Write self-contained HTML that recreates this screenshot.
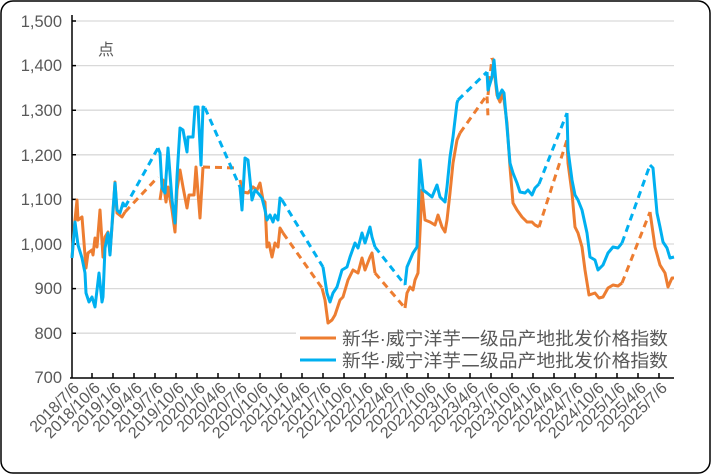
<!DOCTYPE html>
<html><head><meta charset="utf-8"><style>
html,body{margin:0;padding:0;background:#fff}
svg{display:block}
text{font-family:"Liberation Sans","Noto Sans CJK SC",sans-serif;fill:#595959}
</style></head><body>
<svg width="711" height="474" viewBox="0 0 711 474" xmlns="http://www.w3.org/2000/svg">
<rect x="1" y="1" width="709" height="472" rx="12" fill="#fff" stroke="#000" stroke-width="1.5"/>
<g stroke="#d9d9d9" stroke-width="1.3">
<line x1="72" x2="674" y1="21" y2="21"/><line x1="72" x2="674" y1="65.6" y2="65.6"/>
<line x1="72" x2="674" y1="110.2" y2="110.2"/><line x1="72" x2="674" y1="154.8" y2="154.8"/>
<line x1="72" x2="674" y1="199.4" y2="199.4"/><line x1="72" x2="674" y1="244" y2="244"/>
<line x1="72" x2="674" y1="288.6" y2="288.6"/><line x1="72" x2="674" y1="333.2" y2="333.2"/>
</g>
<g font-size="16.5" text-anchor="end">
<text x="62" y="27">1,500</text><text x="62" y="71">1,400</text><text x="62" y="116">1,300</text>
<text x="62" y="161">1,200</text><text x="62" y="205">1,100</text><text x="62" y="250">1,000</text>
<text x="62" y="294">900</text><text x="62" y="339">800</text><text x="62" y="383">700</text>
</g>
<text x="98" y="55" font-size="16">点</text>
<g stroke="#000" stroke-width="1.5">
<line x1="72" y1="15" x2="72" y2="378"/><line x1="70" y1="378" x2="674" y2="378"/>
<path d="M72 21h4M72 65.6h4M72 110.2h4M72 154.8h4M72 199.4h4M72 244h4M72 288.6h4M72 333.2h4" fill="none"/>
<path d="M92 378v-5M113 378v-5M134 378v-5M155 378v-5M176 378v-5M197 378v-5M218 378v-5M239 378v-5M260 378v-5M281 378v-5M302 378v-5M323 378v-5M344 378v-5M365 378v-5M386 378v-5M407 378v-5M428 378v-5M449 378v-5M470 378v-5M491 378v-5M512 378v-5M533 378v-5M554 378v-5M575 378v-5M596 378v-5M617 378v-5M638 378v-5M659 378v-5" fill="none"/>
</g>
<g font-size="16" text-anchor="end">
<text transform="translate(80,389) rotate(-45)">2018/7/6</text>
<text transform="translate(101,389) rotate(-45)">2018/10/6</text>
<text transform="translate(122,389) rotate(-45)">2019/1/6</text>
<text transform="translate(143,389) rotate(-45)">2019/4/6</text>
<text transform="translate(164,389) rotate(-45)">2019/7/6</text>
<text transform="translate(185,389) rotate(-45)">2019/10/6</text>
<text transform="translate(206,389) rotate(-45)">2020/1/6</text>
<text transform="translate(227,389) rotate(-45)">2020/4/6</text>
<text transform="translate(248,389) rotate(-45)">2020/7/6</text>
<text transform="translate(269,389) rotate(-45)">2020/10/6</text>
<text transform="translate(290,389) rotate(-45)">2021/1/6</text>
<text transform="translate(311,389) rotate(-45)">2021/4/6</text>
<text transform="translate(332,389) rotate(-45)">2021/7/6</text>
<text transform="translate(353,389) rotate(-45)">2021/10/6</text>
<text transform="translate(374,389) rotate(-45)">2022/1/6</text>
<text transform="translate(395,389) rotate(-45)">2022/4/6</text>
<text transform="translate(416,389) rotate(-45)">2022/7/6</text>
<text transform="translate(437,389) rotate(-45)">2022/10/6</text>
<text transform="translate(458,389) rotate(-45)">2023/1/6</text>
<text transform="translate(479,389) rotate(-45)">2023/4/6</text>
<text transform="translate(500,389) rotate(-45)">2023/7/6</text>
<text transform="translate(521,389) rotate(-45)">2023/10/6</text>
<text transform="translate(542,389) rotate(-45)">2024/1/6</text>
<text transform="translate(563,389) rotate(-45)">2024/4/6</text>
<text transform="translate(584,389) rotate(-45)">2024/7/6</text>
<text transform="translate(605,389) rotate(-45)">2024/10/6</text>
<text transform="translate(626,389) rotate(-45)">2025/1/6</text>
<text transform="translate(647,389) rotate(-45)">2025/4/6</text>
<text transform="translate(668,389) rotate(-45)">2025/7/6</text>
</g>
<g fill="none" stroke="#ed7d31" stroke-width="3" stroke-linejoin="round">
<path d="M72 258L74 230L77 200L78 220L82 217L86 268L88 253L92 250L93 255L95 238L97 247L100 210L103 257L105 237L108 232L110 253L113 213L115 182L117 213L122 217L125 212"/>
<path d="M160 200L163 180L166 202L168 187L172 210L175 232L177 190L180 170L183 187L187 208L189 195L194 195L196 167L200 218L203 167"/>
<path d="M240 180L243 192L248 193L253 187L257 190L260 183L263 200L265 202L267 247L269 243L272 257L275 243L278 247L280 228L283 233"/>
<path d="M322 288L325 300L328 323L332 320L335 315L340 300L343 297L348 280L353 270L358 273L362 258L365 270L370 257L372 253L375 273"/>
<path d="M405 308L407 293L410 287L413 290L415 280L418 273L422 190L425 220L430 222L435 225L438 215L442 227L445 232L447 220L450 193L453 163L457 140L460 133"/>
<path d="M492 58L493 60L497 95L500 102L503 92L507 123L510 167L513 203L517 210L522 217L527 222L532 222L535 225L539 227"/>
<path d="M567 140L568 163L572 193L575 227L578 233L582 247L585 270L589 295L595 293L599 298L603 297L608 288L613 285L618 286L622 283"/>
<path d="M650 212L655 247L660 265L665 273L668 287L672 278L674 278"/>
<g stroke-dasharray="7,5">
<path d="M125 212L158 177"/><path d="M203 167L237 168"/><path d="M283 233L322 288"/><path d="M375 273L405 308"/>
<path d="M460 133L487 95L488 117"/><path d="M488 95L492 58"/><path d="M539 227L567 140"/><path d="M622 283L650 212"/>
</g>
</g>
<g fill="none" stroke="#00b0f0" stroke-width="3" stroke-linejoin="round">
<path d="M72 258L75 222L78 245L82 258L85 273L86 293L89 302L92 297L95 307L97 290L99 273L102 302L103 297L105 248L108 233L110 255L113 210L115 183L117 210L120 213L123 203L125 207"/>
<path d="M158 148L160 153L162 188L165 193L168 148L172 200L175 223L177 177L180 128L183 130L187 152L188 137L193 137L195 107L198 107L201 165L203 107L205 108"/>
<path d="M240 187L242 210L245 158L248 160L252 200L255 190L258 193L262 198L265 210L267 220L270 215L273 222L275 215L278 220L280 198L282 200"/>
<path d="M323 267L327 293L330 302L333 293L337 287L342 270L347 267L350 257L355 243L358 248L362 233L365 243L370 227L372 237L375 247"/>
<path d="M405 285L407 267L410 260L413 253L417 247L420 160L423 190L427 193L432 197L437 185L440 197L445 202L447 187L450 157L453 137L457 103L458 100"/>
<path d="M487 72L488 90L492 77L494 60L496 83L498 98L502 90L504 93L507 127L510 163L513 173L517 183L520 192L525 193L528 190L532 195L535 188L539 184"/>
<path d="M567 113L568 150L572 180L575 195L578 200L582 210L587 233L590 257L595 260L598 270L603 265L608 253L613 247L618 248L622 243"/>
<path d="M650 165L653 168L657 213L660 227L663 242L667 248L670 258L674 257"/>
<g stroke-dasharray="7,5">
<path d="M125 207L158 148"/><path d="M205 108L240 187"/><path d="M282 200L323 267"/><path d="M375 247L405 285"/>
<path d="M458 100L487 72"/><path d="M539 184L567 113"/><path d="M622 243L650 165"/>
</g>
</g>
<rect x="296" y="328" width="378" height="44" fill="#fff"/>
<line x1="300" y1="338" x2="336" y2="338" stroke="#ed7d31" stroke-width="3"/>
<line x1="300" y1="360" x2="336" y2="360" stroke="#00b0f0" stroke-width="3"/>
<text x="342" y="345" font-size="18" textLength="326" lengthAdjust="spacingAndGlyphs">新华·威宁洋芋一级品产地批发价格指数</text>
<text x="342" y="367" font-size="18" textLength="326" lengthAdjust="spacingAndGlyphs">新华·威宁洋芋二级品产地批发价格指数</text>
</svg>
</body></html>
